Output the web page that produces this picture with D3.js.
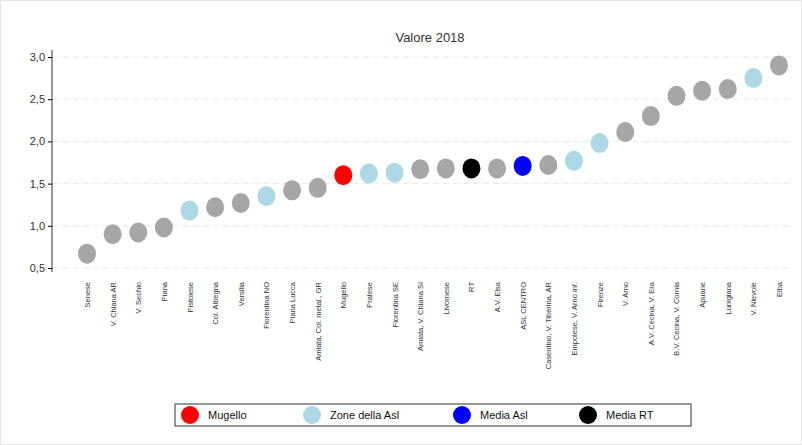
<!DOCTYPE html>
<html><head><meta charset="utf-8">
<script src="https://cdn.jsdelivr.net/npm/d3@7"></script>
<style>body{margin:0;background:#fff;font-family:"Liberation Sans",Arial,sans-serif}</style>
</head><body><div id="chart"></div>
<script>
const categories = ["Senese","V. Chiana AR","V. Sechio","Piana","Pistoiese","Col. Albegna","Versilia","Fiorentina NO","Piana Lucca","Amiata, Col. metal., GR","Mugello","Pratese","Fiorentina SE","Amiata, V. Chiana SI","Livornese","RT","A.V. Elsa","ASL CENTRO","Casentino, V. Tiberina, AR","Empolese, V. Arno inf.","Firenze","V. Arno","A.V. Cecina, V. Era","B.V. Cecina, V. Cornia","Apuane","Lunigiana","V. Nievole","Elba"];
const values = [0.67,0.9,0.92,0.98,1.18,1.22,1.27,1.35,1.42,1.45,1.6,1.62,1.63,1.67,1.68,1.68,1.68,1.71,1.72,1.77,1.98,2.11,2.3,2.54,2.6,2.62,2.75,2.9];
const groups = ["o","o","o","o","z","o","o","z","o","o","m","z","z","o","o","rt","o","asl","o","z","z","o","o","o","o","o","z","o"];
const yTicks = [0.5,1.0,1.5,2.0,2.5,3.0];
const colors = {o:"#a6a6a6", z:"#add8e6", m:"#ff0000", asl:"#0000ff", rt:"#000000"};
const legend = [["Mugello","m"],["Zone della Asl","z"],["Media Asl","asl"],["Media RT","rt"]];
const legendX = [190, 312, 462, 588];

const svg = d3.select("#chart").append("svg").attr("width",802).attr("height",445);
svg.append("rect").attr("x",0.5).attr("y",0.5).attr("width",801).attr("height",444).attr("fill","none").attr("stroke","#e6e6e6");

const x = d3.scalePoint().domain(categories).range([87,779]);
const y = d3.scaleLinear().domain([0.5,3.0]).range([268,57]);

svg.append("g").selectAll("line").data(yTicks).join("line")
  .attr("x1",53).attr("x2",790).attr("y1",d=>y(d)).attr("y2",d=>y(d))
  .attr("stroke","#e8e8e8").attr("stroke-dasharray","6,4");

const ya = svg.append("g").attr("transform","translate(52,0)")
  .call(d3.axisLeft(y).tickValues(yTicks).tickFormat(d=>d3.format(".1f")(d).replace(".",",")).tickSize(4));
ya.select(".domain").attr("d","M0,50V272").attr("stroke","#333");
ya.selectAll("text").attr("font-size",11).attr("fill","#333");

svg.append("text").attr("x",430).attr("y",42).attr("text-anchor","middle").attr("font-size",13).attr("fill","#333").text("Valore 2018");

svg.append("g").selectAll("ellipse").data(values).join("ellipse")
  .attr("cx",(d,i)=>x(categories[i])).attr("cy",d=>y(d))
  .attr("rx",9).attr("ry",10).attr("fill",(d,i)=>colors[groups[i]]);

svg.append("g").selectAll("text").data(categories).join("text")
  .attr("transform",d=>`translate(${x(d)+3},282) rotate(-90)`)
  .attr("text-anchor","end").attr("font-size",7.5).attr("fill","#333").text(d=>d);

const lg = svg.append("g");
lg.append("rect").attr("x",175).attr("y",404).attr("width",516).attr("height",22).attr("fill","#fff").attr("stroke","#333");
legend.forEach((l,i)=>{
  const lx = legendX[i];
  lg.append("ellipse").attr("cx",lx).attr("cy",415).attr("rx",9).attr("ry",9).attr("fill",colors[l[1]]);
  lg.append("text").attr("x",lx+18).attr("y",419).attr("font-size",11).attr("fill","#111").text(l[0]);
});
</script></body></html>
